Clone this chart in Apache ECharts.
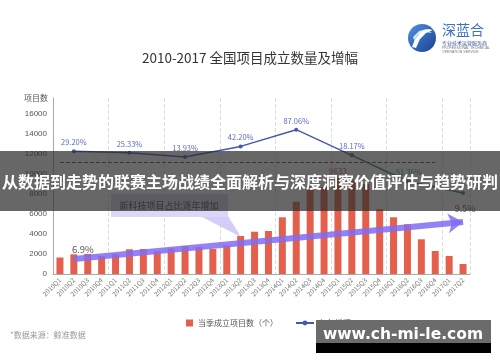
<!DOCTYPE html>
<html><head><meta charset="utf-8">
<script src="https://cdn.jsdelivr.net/npm/echarts@6/dist/echarts.min.js"></script>
<style>html,body{margin:0;padding:0;background:#fff}#c{width:500px;height:362px}</style>
</head><body><div id="c"></div>
<script>
const categories = ['2010Q1','2010Q2','2010Q3','2010Q4','2011Q1','2011Q2','2011Q3','2011Q4',
  '2012Q1','2012Q2','2012Q3','2012Q4','2013Q1','2013Q2','2013Q3','2013Q4',
  '2014Q1','2014Q2','2014Q3','2014Q4','2015Q1','2015Q2','2015Q3','2015Q4',
  '2016Q1','2016Q2','2016Q3','2016Q4','2017Q1','2017Q2'];
const projectCounts = [1650,1970,2000,1800,2000,2470,2500,2300,2570,2800,2700,2500,2870,3800,
  4230,4300,5670,7230,8800,8700,9633,9400,9000,6470,5670,4970,3470,2300,1800,1000];
const growthCats = ['2010Q2','2011Q2','2012Q2','2013Q2','2014Q2','2015Q2','2016Q2','2017Q2'];
const growthRates = [29.20,25.33,13.93,42.20,87.06,18.17,-51.36,-83];
const growthLabels = ['29.20%','25.33%','13.93%','42.20%','87.06%','18.17%','-51.36%',''];
const shareStart = {cat:'2010Q2', label:'6.9%'};
const shareEnd = {cat:'2017Q2', label:'9.5%'};
const yTicks = [0,2000,4000,6000,8000,10000,12000,14000,16000];

const CJK = '"Noto Sans CJK SC","Noto Sans",sans-serif';
const maxVal = Math.max(...projectCounts);
const barData = projectCounts.map(v => v === maxVal ?
  {value:v, label:{show:true, position:'top', distance:3, fontSize:8, color:'#c8553f', fontFamily:CJK}} : v);

const blueIdx = [0,1,2,3,4,5];
const greenIdx = [5,6,7];
const blueData = blueIdx.map(i => ({value:[growthCats[i], growthRates[i]],
  label:{show:!!growthLabels[i], formatter:growthLabels[i]}}));
const greenData = greenIdx.map(i => ({value:[growthCats[i], growthRates[i]],
  label:{show: i !== 5 && !!growthLabels[i], formatter:growthLabels[i]}}));

const chart = echarts.init(document.getElementById('c'));
chart.setOption({
  animation:false,
  backgroundColor:'#fff',
  title:{text:'2010-2017 全国项目成立数量及增幅', left:'center', top:46,
    textStyle:{fontSize:13.5, fontWeight:'normal', color:'#333', fontFamily:CJK}},
  legend:[
    {data:['当季成立项目数（个）'], left:181, top:314, itemWidth:7, itemHeight:7, itemGap:5,
      textStyle:{fontSize:8, color:'#555', fontFamily:CJK}, icon:'rect'},
    {data:['每年增速'], left:290, top:314, itemWidth:18, itemHeight:6,
      textStyle:{fontSize:8, color:'#555', fontFamily:CJK}}
  ],
  grid:{left:53, top:98, width:417, height:176, containLabel:false},
  xAxis:{type:'category', data:categories, boundaryGap:true,
    axisLine:{lineStyle:{color:'#aaa'}}, axisTick:{show:false},
    axisLabel:{rotate:45, fontSize:6.5, color:'#777', margin:5, interval:0, fontFamily:CJK},
    splitLine:{show:true, interval:(i)=> i>0 && i%4===0, lineStyle:{type:'dashed', color:'#ddd'}}},
  yAxis:[
    {type:'value', min:0, max:17600, interval:2000,
      name:'项目数', nameLocation:'end', nameGap:0,
      nameTextStyle:{fontSize:8, color:'#555', align:'right', verticalAlign:'middle', padding:[0,5,0,0], fontFamily:CJK},
      axisLine:{show:true, lineStyle:{color:'#aaa'}}, axisTick:{show:false}, splitLine:{show:false},
      axisLabel:{fontSize:8, color:'#555', margin:6, showMaxLabel:false,
        formatter:(v)=> yTicks.indexOf(v) >= 0 ? String(v) : ''}},
    {type:'value', min:-300, max:172, show:false, splitLine:{show:false}}
  ],
  series:[
    {name:'当季成立项目数（个）', type:'bar', data:barData, barWidth:7, z:2,
      itemStyle:{color:'#e5604c'},
      markLine:{silent:true, symbol:['none','arrow'], symbolSize:15, z:3,
        lineStyle:{color:'rgba(128,108,245,0.85)', width:6, type:'solid'},
        label:{show:false},
        data:[[{coord:[shareStart.cat, 1500]}, {coord:[shareEnd.cat, 5200]}]]},
      markPoint:{silent:true, symbol:'circle', symbolSize:0,
        data:[
          {coord:[shareStart.cat, 2500], label:{show:true, formatter:shareStart.label, offset:[9,0], fontSize:9.5, color:'#555', fontFamily:CJK}},
          {coord:[shareEnd.cat, 6500], label:{show:true, formatter:shareEnd.label, offset:[2,0], fontSize:9, color:'#555', fontFamily:CJK}}
        ]}},
    {name:'每年增速', type:'line', yAxisIndex:1, data:blueData, z:4,
      color:'#4657b5', symbol:'circle', symbolSize:4, lineStyle:{width:1.5, color:'#4657b5'},
      itemStyle:{color:'#4657b5'},
      label:{position:'top', distance:3, fontSize:7.5, color:'#5a6ac4', fontFamily:CJK},
      markLine:{silent:true, symbol:'none', label:{show:false},
        lineStyle:{color:'#555', type:'dashed', width:1},
        data:[[{coord:[categories[0], 0]}, {coord:[categories[27], 0]}]]}},
    {name:'增速回落', type:'line', yAxisIndex:1, data:greenData, z:4,
      symbol:'circle', symbolSize:4, lineStyle:{width:1.5, color:'#2e8a58'},
      itemStyle:{color:'#2e8a58'},
      label:{position:'top', distance:3, fontSize:7.5, color:'#3e9a68', fontFamily:CJK}}
  ],
  graphic:[
    {type:'polygon', z:5, shape:{points:[[200,216],[228,216],[241,237]]}, style:{fill:'rgba(205,196,248,0.85)'}},
    {type:'rect', z:5, shape:{x:111, y:194, width:117, height:23}, style:{fill:'#dcd6f7'}},
    {type:'text', z:6, style:{x:169, y:206, text:'新科技项目占比逐年增加', textAlign:'center', textVerticalAlign:'middle',
      font:'9px '+CJK, fill:'#444'}},
    {type:'rect', z:100, shape:{x:0, y:151, width:500, height:60}, style:{fill:'rgba(45,45,45,0.72)'}},
    {type:'text', z:101, style:{x:250, y:182, text:'从数据到走势的联赛主场战绩全面解析与深度洞察价值评估与趋势研判',
      textAlign:'center', textVerticalAlign:'middle', font:'bold 16px '+CJK, fill:'#fff'}},
    {type:'text', z:10, style:{x:10, y:335, text:'*数据来源：鲸准数据', textVerticalAlign:'middle', font:'8px '+CJK, fill:'#999'}},
    {type:'rect', z:100, shape:{x:316, y:320, width:175, height:23}, style:{fill:'#6b6b6b'}},
    {type:'rect', z:100, shape:{x:316, y:343, width:175, height:10}, style:{fill:'#000'}},
    {type:'text', z:101, style:{x:403, y:335, text:'www.ch-mi-le.com', textAlign:'center', textVerticalAlign:'middle',
      font:'bold 15.5px "DejaVu Sans",sans-serif', fill:'#fff'}},
    {type:'circle', z:10, shape:{cx:422, cy:38, r:14},
      style:{fill:new echarts.graphic.LinearGradient(0,0,1,1,[{offset:0,color:'#4f93e3'},{offset:1,color:'#1a3f8f'}])}},
    {type:'polygon', z:11, shape:{points:[[412,47],[415,39],[421,32],[428,29],[433,30],[426,33],[420,39],[416,48]]},
      style:{fill:'#fff'}},
    {type:'polygon', z:11, shape:{points:[[413,37],[419,31],[426,29],[432,33],[425,32],[418,35],[414,40]]},
      style:{fill:'rgba(255,255,255,0.8)'}},
    {type:'text', z:10, style:{x:442, y:30, text:'深蓝合', textVerticalAlign:'middle', font:'14px '+CJK, fill:'#3a6fc4'}},
    {type:'text', z:10, style:{x:442, y:43, text:'专业技术运营服务商', textVerticalAlign:'middle', font:'5px '+CJK, fill:'#2c4c9c'}},
    {type:'text', z:10, style:{x:442, y:48.5, text:'PROFESSIONAL TECHNICAL', textVerticalAlign:'middle', font:'3.5px sans-serif', fill:'#777'}},
    {type:'text', z:10, style:{x:442, y:52.5, text:'OPERATION SERVICE', textVerticalAlign:'middle', font:'3.5px sans-serif', fill:'#777'}}
  ]
});
</script></body></html>
